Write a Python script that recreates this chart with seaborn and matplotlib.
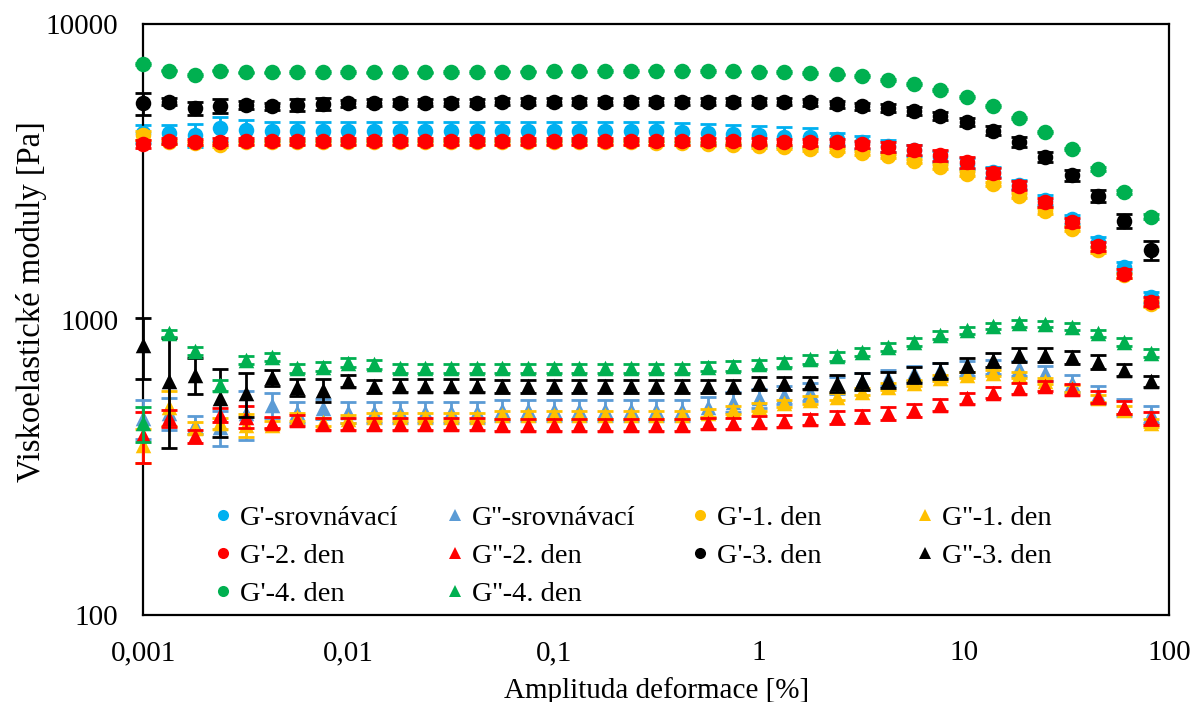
import matplotlib
matplotlib.use("Agg")
import matplotlib.pyplot as plt
import seaborn as sns
import pandas as pd
from matplotlib.lines import Line2D
from matplotlib.ticker import NullLocator

# ---------------- data ----------------
strain = [0.001, 0.00133, 0.00178, 0.00237, 0.00316, 0.00422, 0.00562, 0.0075,
          0.01, 0.0133, 0.0178, 0.0237, 0.0316, 0.0422, 0.0562, 0.075,
          0.1, 0.133, 0.178, 0.237, 0.316, 0.422, 0.562, 0.75,
          1.0, 1.33, 1.78, 2.39, 3.19, 4.27, 5.72, 7.63,
          10.3, 13.8, 18.5, 24.9, 33.5, 45.1, 60.4, 81.5]

labels = ["G'-srovnávací", "G''-srovnávací", "G'-1. den", "G''-1. den",
          "G'-2. den", "G''-2. den", "G'-3. den", "G''-3. den",
          "G'-4. den", "G''-4. den"]

g1_ref = [4270, 4270, 4210, 4440, 4380, 4330, 4330, 4330, 4330, 4330,
          4330, 4330, 4330, 4330, 4330, 4330, 4330, 4330, 4330, 4330,
          4330, 4300, 4270, 4240, 4200, 4160, 4130, 4090, 3990, 3880,
          3740, 3560, 3370, 3160, 2860, 2540, 2180, 1830, 1510, 1190]
g1_ref_err = [300, 300, 380, 420, 350, 320, 320, 320, 320, 320,
              320, 320, 320, 320, 320, 320, 320, 320, 320, 320,
              320, 320, 320, 320, 320, 320, 320, 200, 200, 180,
              160, 150, 140, 120, 100, 90, 80, 70, 60, 50]

g2_ref = [463, 482, 440, 432, 482, 514, 487, 500, 487, 487,
          487, 487, 487, 487, 494, 494, 494, 494, 494, 494,
          494, 494, 505, 527, 541, 556, 570, 600, 617, 634,
          658, 675, 684, 692, 684, 658, 608, 556, 505, 478]
g2_ref_err = [70, 60, 30, 60, 90, 50, 40, 40, 40, 40,
              40, 40, 40, 40, 40, 40, 40, 40, 40, 40,
              40, 40, 40, 40, 40, 40, 40, 40, 40, 40,
              40, 40, 40, 40, 40, 40, 40, 40, 35, 30]

g1_d1 = [4210, 3990, 3950, 3890, 3990, 3990, 3990, 3990, 3990, 3990,
         3990, 3990, 3990, 3990, 3990, 3990, 3990, 3990, 3990, 3990,
         3970, 3950, 3920, 3890, 3860, 3840, 3790, 3760, 3670, 3580,
         3440, 3290, 3110, 2880, 2620, 2330, 2030, 1720, 1410, 1130]
g1_d1_err = [150, 60, 60, 60, 60, 60, 60, 60, 60, 60,
             60, 60, 60, 60, 60, 60, 60, 60, 60, 60,
             60, 60, 60, 60, 60, 60, 60, 60, 60, 60,
             60, 60, 60, 50, 50, 50, 40, 40, 30, 30]

g2_d1 = [376, 505, 429, 446, 440, 440, 469, 451, 460, 469,
         469, 469, 469, 469, 475, 475, 475, 475, 475, 475,
         475, 475, 482, 494, 505, 520, 534, 548, 570, 593,
         611, 634, 649, 658, 649, 621, 585, 541, 494, 447]
g2_d1_err = [50, 70, 20, 20, 40, 15, 15, 15, 15, 15,
             15, 15, 15, 15, 15, 15, 15, 15, 15, 15,
             15, 15, 15, 15, 15, 15, 15, 15, 15, 15,
             15, 15, 15, 15, 15, 15, 15, 15, 15, 15]

g1_d2 = [3940, 4020, 3990, 4000, 4010, 4010, 4010, 4010, 4010, 4010,
         4010, 4010, 4010, 4010, 4010, 4010, 4010, 4010, 4010, 4010,
         4010, 4010, 4010, 4010, 4000, 3990, 3980, 3980, 3920, 3840,
         3760, 3600, 3400, 3140, 2840, 2490, 2130, 1770, 1430, 1150]
g1_d2_err = [120, 100, 100, 100, 100, 100, 100, 100, 100, 100,
             100, 100, 100, 100, 100, 100, 100, 100, 100, 100,
             100, 100, 100, 100, 100, 100, 100, 100, 100, 150,
             150, 150, 140, 120, 100, 80, 70, 60, 50, 40]

g2_d2 = [406, 463, 403, 475, 469, 448, 457, 443, 443, 443,
         443, 443, 443, 443, 440, 440, 440, 440, 440, 440,
         440, 440, 446, 446, 451, 454, 460, 467, 471, 482,
         494, 514, 541, 566, 585, 596, 581, 548, 505, 463]
g2_d2_err = [80, 30, 20, 25, 40, 20, 20, 20, 20, 20,
             20, 20, 20, 20, 20, 20, 20, 20, 20, 20,
             20, 20, 20, 20, 20, 20, 20, 25, 25, 25,
             25, 25, 25, 25, 25, 25, 25, 25, 25, 25]

g1_d3 = [5390, 5450, 5190, 5290, 5320, 5270, 5320, 5350, 5400, 5420,
         5420, 5420, 5420, 5420, 5450, 5450, 5450, 5450, 5450, 5450,
         5450, 5450, 5450, 5450, 5450, 5450, 5430, 5350, 5270, 5200,
         5080, 4880, 4670, 4350, 3980, 3560, 3080, 2620, 2160, 1720]
g1_d3_err = [470, 150, 250, 300, 150, 150, 250, 250, 150, 150,
             150, 150, 150, 150, 150, 150, 150, 150, 150, 150,
             150, 150, 150, 150, 150, 150, 150, 150, 150, 150,
             150, 150, 150, 150, 150, 140, 130, 120, 120, 130]

g2_d3 = [820, 617, 649, 541, 562, 637, 590, 577, 621, 596,
         598, 598, 598, 598, 596, 596, 596, 596, 596, 596,
         596, 596, 596, 596, 608, 608, 611, 608, 617, 625,
         649, 671, 702, 730, 758, 758, 745, 720, 675, 617]
g2_d3_err = [190, 250, 90, 140, 95, 40, 40, 50, 30, 30,
             30, 30, 30, 30, 30, 30, 30, 30, 30, 30,
             30, 30, 30, 30, 30, 30, 30, 40, 40, 40,
             40, 40, 40, 40, 40, 40, 40, 40, 30, 25]

g1_d4 = [7330, 6950, 6710, 6950, 6860, 6860, 6870, 6880, 6880, 6860,
         6860, 6860, 6870, 6880, 6900, 6900, 6910, 6920, 6930, 6940,
         6950, 6950, 6940, 6920, 6900, 6880, 6840, 6760, 6670, 6460,
         6270, 5990, 5660, 5280, 4820, 4310, 3780, 3230, 2700, 2230]
g1_d4_err = [40] * 40

g2_d4 = [446, 897, 784, 600, 730, 748, 684, 692, 714, 707,
         684, 684, 684, 684, 684, 684, 684, 684, 684, 684,
         684, 684, 692, 697, 707, 716, 733, 751, 778, 806,
         840, 887, 920, 952, 970, 965, 945, 898, 840, 771]
g2_d4_err = [60, 25, 25, 25, 25, 25, 25, 25, 25, 25,
             25, 25, 25, 25, 25, 25, 25, 25, 25, 25,
             25, 25, 25, 25, 25, 25, 25, 25, 25, 25,
             25, 25, 25, 25, 25, 25, 25, 25, 25, 25]

values = [g1_ref, g2_ref, g1_d1, g2_d1, g1_d2, g2_d2, g1_d3, g2_d3, g1_d4, g2_d4]
errors = [g1_ref_err, g2_ref_err, g1_d1_err, g2_d1_err, g1_d2_err, g2_d2_err,
          g1_d3_err, g2_d3_err, g1_d4_err, g2_d4_err]

colors = ["#00B0F0", "#5B9BD5", "#FFC000", "#FFC000", "#FF0000", "#FF0000",
          "#000000", "#000000", "#00B050", "#00B050"]
markers = ["o", "^", "o", "^", "o", "^", "o", "^", "o", "^"]

# ---------------- plot ----------------
sns.set_theme(style="white")
plt.rcParams["font.family"] = ["Liberation Serif", "DejaVu Serif"]

fig = plt.figure(figsize=(11.95, 7.02), dpi=100)
ax = fig.add_axes([0.1199, 0.1239, 0.8586, 0.8419])
ax.set_xscale("log")
ax.set_yscale("log")

for i, (lab, vals, err, col, mk) in enumerate(zip(labels, values, errors, colors, markers)):
    df = pd.DataFrame({"x": strain, "y": vals, "e": err})
    eb = ax.errorbar(df["x"], df["y"], yerr=df["e"], fmt="none", ecolor=col,
                     elinewidth=2.0, capsize=6, capthick=2.0, zorder=2 + 2 * i)
    for part in eb.lines:
        if part is None:
            continue
        items = part if isinstance(part, (tuple, list)) else [part]
        for a in items:
            a.set_clip_on(False)
    sns.scatterplot(data=df, x="x", y="y", ax=ax, marker=mk, color=col,
                    s=125, linewidth=0, zorder=3 + 2 * i, legend=False,
                    clip_on=False)

ax.set_xlim(0.001, 100)
ax.set_ylim(100, 10000)
ax.set_xticks([0.001, 0.01, 0.1, 1, 10, 100])
ax.set_xticklabels(["0,001", "0,01", "0,1", "1", "10", "100"])
ax.set_yticks([100, 1000, 10000])
ax.set_yticklabels(["100", "1000", "10000"])
ax.xaxis.set_minor_locator(NullLocator())
ax.yaxis.set_minor_locator(NullLocator())
ax.tick_params(axis="both", length=0, labelsize=21, colors="#000000")
ax.tick_params(axis="y", pad=18)
ax.tick_params(axis="x", pad=18)
for sp in ax.spines.values():
    sp.set_color("#000000")
    sp.set_linewidth(1.6)

ax.set_xlabel("Amplituda deformace [%]", fontsize=21, color="#000000", labelpad=8)
ax.set_ylabel("Viskoelastické moduly [Pa]", fontsize=23.5, color="#000000")
ax.yaxis.set_label_coords(-0.0943, 0.5296)

# legend: four columns like the original (equal column pitch)
handles = [Line2D([], [], linestyle="none", marker=m, color=c, markersize=8,
                  markeredgewidth=0) for m, c in zip(markers, colors)]
col_idx = [[0, 4, 8], [1, 5, 9], [2, 6], [3, 7]]
col_x = [214, 446, 691, 916]
W, H = 1195.0, 702.0
for ci, (idxs, xpx) in enumerate(zip(col_idx, col_x)):
    leg = ax.legend([handles[i] for i in idxs], [labels[i] for i in idxs],
                    loc="upper left", bbox_to_anchor=(xpx / W, 1 - 505 / H),
                    bbox_transform=fig.transFigure, frameon=False,
                    fontsize=20.5, handlelength=0.6, handletextpad=0.3,
                    labelspacing=0.43, borderpad=0, borderaxespad=0)
    for t in leg.get_texts():
        t.set_color("#000000")
    if ci < 3:
        ax.add_artist(leg)

fig.savefig("out.png", dpi=100)
